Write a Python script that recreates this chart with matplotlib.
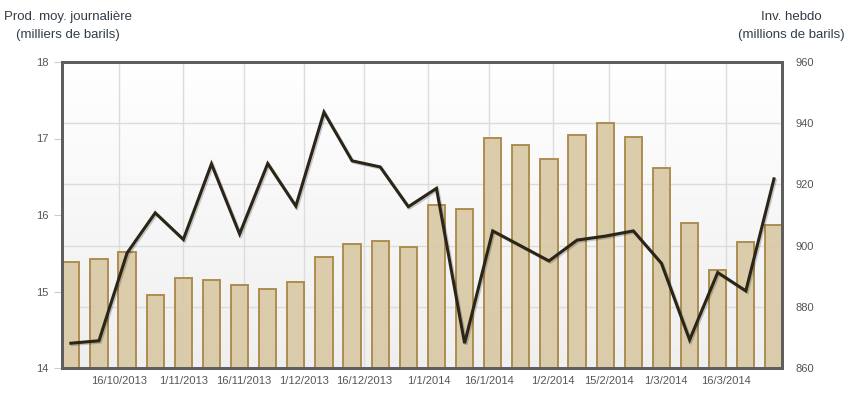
"""Production journalière (barres) et inventaire hebdo (ligne), oct. 2013 - mars 2014."""
import datetime as dt

import matplotlib
matplotlib.use("Agg")
import matplotlib.dates as mdates
import matplotlib.patheffects as pe
import matplotlib.pyplot as plt
import numpy as np
from matplotlib.ticker import FuncFormatter

plt.rcParams['font.family'] = ['Liberation Sans', 'DejaVu Sans']

# semaines (vendredi) du 4/10/2013 au 28/3/2014
weeks = [dt.date(2013, 10, 4) + dt.timedelta(weeks=i) for i in range(26)]

prod = [15.39, 15.42, 15.51, 14.96, 15.17, 15.15, 15.08, 15.03, 15.13, 15.45,
        15.62, 15.66, 15.58, 16.13, 16.08, 17.01, 16.92, 16.73, 17.05, 17.20,
        17.02, 16.61, 15.90, 15.28, 15.65, 15.87]

inv = [868.1, 868.9, 897.6, 910.7, 902.0, 926.7, 903.8, 926.8, 912.9, 943.6,
       927.7, 925.7, 912.7, 918.7, 868.1, 904.8, 899.9, 895.0, 901.8, 903.1,
       904.8, 894.2, 869.2, 891.2, 885.2, 921.8]

date_ticks = [dt.date(2013, 10, 16), dt.date(2013, 11, 1), dt.date(2013, 11, 16),
              dt.date(2013, 12, 1), dt.date(2013, 12, 16), dt.date(2014, 1, 1),
              dt.date(2014, 1, 16), dt.date(2014, 2, 1), dt.date(2014, 2, 15),
              dt.date(2014, 3, 1), dt.date(2014, 3, 16)]

left_ticks = [14, 15, 16, 17, 18]
right_ticks = [860, 880, 900, 920, 940, 960]

tick_col = '#555555'
title_col = '#333d47'

fig = plt.figure(figsize=(8.48, 3.97), dpi=100)
ax = fig.add_axes([62 / 848, 1 - 368 / 397, 720 / 848, 306 / 397])

# fond en dégradé (blanc en haut, gris clair en bas)
grad = np.linspace(0, 1, 256).reshape(-1, 1)
ax.imshow(grad, extent=[0, 1, 0, 1], transform=ax.transAxes, aspect='auto',
          cmap=matplotlib.colors.LinearSegmentedColormap.from_list('bg', ['#ffffff', '#efefef']),
          vmin=0, vmax=1, zorder=0)

x = mdates.date2num(weeks)
ax.bar(x, [p - 14 for p in prod], bottom=14, width=4.3, color='#d9c9a5',
       edgecolor='#a88646', linewidth=1.4, alpha=0.92, zorder=2)

ax.set_ylim(14, 18)
ax.set_xlim(x[0] - 2.2, x[-1] + 2.0)
ax.set_yticks(left_ticks)
# grille horizontale alignée sur l'axe de droite
to_left = lambda v: 14 + (v - right_ticks[0]) * 4 / (right_ticks[-1] - right_ticks[0])
ax.set_yticks([to_left(v) for v in right_ticks], minor=True)
ax.grid(True, which='minor', axis='y', color='#dcdcdc', linewidth=1, zorder=1)
ax.set_xticks(mdates.date2num(date_ticks))
ax.xaxis.set_major_formatter(FuncFormatter(
    lambda v, pos: (lambda d: f"{d.day}/{d.month}/{d.year}")(mdates.num2date(v))))
ax.grid(True, which='major', axis='x', color='#dcdcdc', linewidth=1, zorder=1)
ax.set_axisbelow(True)
ax.tick_params(axis='y', which='major', length=6, color='#cccccc', labelsize=8,
               labelcolor=tick_col, pad=4)
ax.tick_params(axis='y', which='minor', length=0)
ax.tick_params(axis='x', length=0, labelsize=8, labelcolor=tick_col, pad=6)

ax2 = ax.twinx()
ax2.plot(x, inv, color='#2b2517', linewidth=2.2, solid_joinstyle='miter', zorder=3,
         path_effects=[pe.SimpleLineShadow(offset=(1, -1), alpha=0.2), pe.Normal()])
ax2.set_ylim(860, 960)
ax2.set_yticks(right_ticks)
ax2.tick_params(axis='y', length=0, labelsize=8, labelcolor=tick_col, pad=10)

for a in (ax, ax2):
    for s in a.spines.values():
        s.set_color('#5e5e5e')
        s.set_linewidth(2)

fig.text(68 / 848, 1 - 26 / 397, "Prod. moy. journalière\n(milliers de barils)",
         ha='center', va='center', fontsize=9.5, color=title_col, linespacing=1.75)
fig.text(791 / 848, 1 - 26 / 397, "Inv. hebdo\n(millions de barils)",
         ha='center', va='center', fontsize=9.5, color=title_col, linespacing=1.75)

fig.savefig('out.png', dpi=100)
